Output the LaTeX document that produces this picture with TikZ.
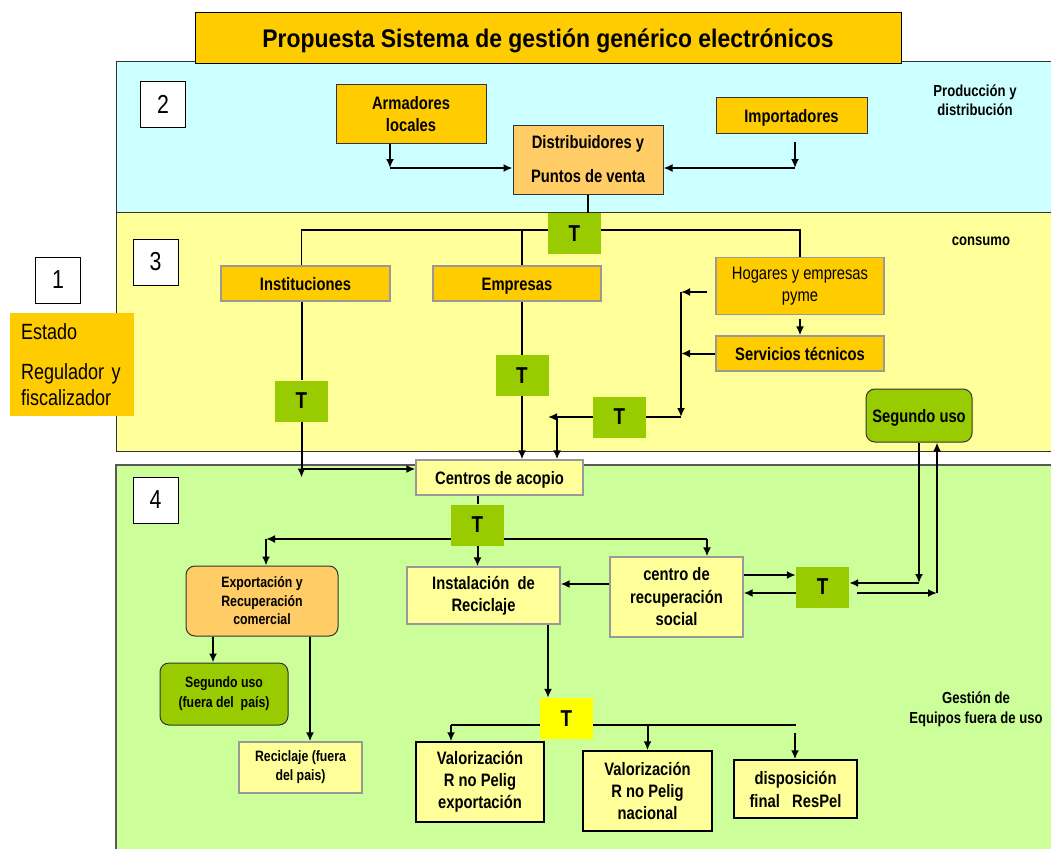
\documentclass[tikz,border=0pt]{standalone}
\usepackage{fontspec}
\setmainfont{Liberation Sans}[FakeStretch=0.82]
\newfontfamily\titlefont{Liberation Sans}[FakeStretch=0.9]
\usetikzlibrary{arrows.meta,positioning}
\tikzset{>={Latex[length=9pt,width=8pt]}}
\definecolor{titleOrange}{HTML}{FFCC00}
\definecolor{lightOrange}{HTML}{FFCC66}
\definecolor{prodBlue}{HTML}{CCFFFF}
\definecolor{consYellow}{HTML}{FFFF99}
\definecolor{gestGreen}{HTML}{CCFF99}
\definecolor{tGreen}{HTML}{99CC00}
\definecolor{tYellow}{HTML}{FFFF00}
\colorlet{paleBox}{consYellow}
\colorlet{edgeGray}{black!40}
\colorlet{edgeDark}{black!80}
\tikzset{
  sz/.style 2 args={minimum width=#1,minimum height=#2},
  box/.style={rectangle,inner sep=0pt,align=center,font=\fontsize{18}{22}\selectfont\bfseries},
  oneline/.style={text height=13pt,text depth=0pt},
  darkbox/.style={box,fill=titleOrange,draw=edgeDark,line width=1pt},
  orangebox/.style={box,fill=titleOrange,draw=edgeGray,line width=1.3pt},
  palebox/.style={box,fill=paleBox,draw=edgeGray,line width=1.3pt},
  endbox/.style={box,fill=paleBox,draw=black,line width=1.5pt},
  roundbox/.style={box,rounded corners=9pt,draw=edgeDark,line width=1pt,
    font=\fontsize{15}{18.5}\selectfont\bfseries},
  tbox/.style={rectangle,inner sep=0pt,fill=tGreen,sz={53}{41},
    font=\fontsize{23}{23}\selectfont\bfseries},
  numbox/.style={rectangle,draw=black,line width=0.8pt,fill=white,sz={45}{46},
    font=\fontsize{26}{26}\selectfont},
  note/.style={align=center,font=\fontsize{16}{19}\selectfont\bfseries},
  arr/.style={->,line width=2pt},
  wire/.style={line width=2pt},
  link/.style={line width=1.2pt},
  panel/.style={draw=edgeDark,line width=1pt}
}
\begin{document}
\begin{tikzpicture}[x=1pt,y=-1pt]
\useasboundingbox (0,0) rectangle (1051,848);

% zonas
\draw[panel,fill=prodBlue] (116,62) rectangle (1060,212);
\draw[panel,fill=consYellow] (116,212) rectangle (1060,451);
\draw[panel,draw=black!65,line width=1.6pt,fill=gestGreen] (116,465) rectangle (1060,856);

\node[rectangle,draw=black,line width=1pt,fill=titleOrange,sz={706}{51},
  text height=18pt,text depth=0pt,
  font=\titlefont\fontsize{25.5}{25.5}\selectfont\bfseries] (title) at (548,38.5)
  {Propuesta Sistema de gestión genérico electrónicos};

\node[numbox] (n1) at (58,280) {1};
\node[numbox] (n2) at (163,104) {2};
\node[numbox] (n3) at (155.5,262) {3};
\node[numbox] (n4) at (155.5,500) {4};

\node[rectangle,fill=titleOrange,sz={124}{103},text width=102,inner xsep=11,
  align=left,font=\fontsize{22}{26}\selectfont] (estado) at (72,364.5)
  {Estado\\[14pt]Regulador y\\fiscalizador};

% produccion y distribucion
\node[darkbox,sz={150}{58}] (arm) at (411,114) {Armadores\\locales};
\node[darkbox,fill=lightOrange,sz={150}{69},font=\fontsize{18}{34}\selectfont\bfseries]
  (dist) at (588,159.5) {Distribuidores y\\Puntos de venta};
\node[darkbox,oneline,sz={151}{35}] (imp) at (791.5,115.5) {Importadores};
\node[note] (prodlabel) at (975,100) {Producción y\\distribución};

\coordinate (a1) at (390,168);
\coordinate (i1) at (795,168);
\draw[arr] (arm.south -| a1) -- (a1);
\draw[arr] (a1) -- (a1 -| dist.west);
\draw[arr] ([yshift=-8pt]imp.south -| i1) -- (i1);
\draw[arr] (i1) -- (i1 -| dist.east);

% consumo
\node[tbox] (t1) at (574.5,233.5) {T};
\node[orangebox,oneline,sz={169}{35}] (inst) at (305.5,283.5) {Instituciones};
\node[orangebox,oneline,sz={168}{35}] (emp) at (517,283.5) {Empresas};
\node[orangebox,sz={168}{57},font=\fontsize{18}{22}\selectfont] (hog) at (800,286)
  {Hogares y empresas\\pyme};
\node[orangebox,oneline,sz={168}{35}] (serv) at (800,353.5) {Servicios técnicos};
\node[note] (conslabel) at (981,241) {consumo};
\node[tbox] (t2) at (301.5,401) {T};
\node[tbox] (t3) at (522,375.5) {T};
\node[tbox] (t4) at (619.5,417) {T};
\node[box,oneline,rounded corners=9pt,fill=tGreen,draw=edgeDark,line width=1pt,sz={106}{53}]
  (seg) at (919,415.5) {Segundo uso};

\coordinate (bus) at (301,230);
\draw[link] (dist.south) -- (dist.south |- t1.north);
\draw[link] (t2 |- inst.north) -- (t2 |- bus) -- (t1.west |- bus);
\draw[link] (t1.east |- bus) -| (hog.north);
\draw[link] (t3 |- emp.north) -- (t3 |- bus);

% gestion de equipos fuera de uso
\node[palebox,oneline,sz={167}{35}] (cen) at (499.5,477.5) {Centros de acopio};
\node[tbox] (t5) at (477.5,525) {T};
\node[roundbox,fill=lightOrange,sz={152}{70}] (exp) at (262,601)
  {Exportación y\\Recuperación\\comercial};
\node[palebox,sz={153}{57}] (ins) at (483.5,595.5) {Instalación\ \ de\\Reciclaje};
\node[palebox,sz={133}{80},font=\fontsize{18}{22.5}\selectfont\bfseries] (rec) at (676.5,597)
  {centro de\\recuperación\\social};
\node[tbox] (t6) at (822.5,587) {T};
\node[roundbox,fill=tGreen,sz={128}{62},font=\fontsize{15}{20}\selectfont\bfseries]
  (sf) at (224,694) {Segundo uso\\(fuera del\ \ país)};
\node[palebox,sz={123}{51},font=\fontsize{15}{19}\selectfont\bfseries] (rf) at (300.5,767.5)
  {Reciclaje (fuera\\del pais)};
\node[tbox,fill=tYellow] (t7) at (566.5,718.5) {T};
\node[endbox,sz={128}{80}] (v1) at (480,782) {Valorización\\R no Pelig\\exportación};
\node[endbox,sz={129}{80}] (v2) at (647.5,791) {Valorización\\R no Pelig\\nacional};
\node[endbox,sz={123}{58},font=\fontsize{18}{23}\selectfont\bfseries] (dp) at (795.5,789)
  {disposición\\final\ \ \ ResPel};
\node[note,font=\fontsize{16}{20}\selectfont\bfseries] (gestlabel) at (976,709)
  {Gestión de\\Equipos fuera de uso};

% flujos hacia acopio
\coordinate (c2) at (301,469);
\coordinate (h1) at (681,292);
\coordinate (h2) at (681,417);
\coordinate (h3) at (548,417);
\coordinate (h4) at (557,417);
\draw[wire] (inst.south -| t2) -- (t2.north);
\draw[arr] (t2.south) -- (t2 |- cen.center);
\draw[arr] (c2) -- (c2 -| cen.west);
\draw[wire] (emp.south -| t3) -- (t3.north);
\draw[arr] (t3.south) -- (t3 |- cen.north);
\draw[arr] ([xshift=-8pt]hog.west |- h1) -- (h1);
\draw[arr] (serv.west) -- (serv.west -| h1);
\draw[arr] ([yshift=-4pt]hog.south) -- (serv.north);
\draw[arr] (h1) -- (h2);
\draw[wire] (h2) -- (t4.east);
\draw[arr] (t4.west) -- (h3);
\draw[arr] (h4) -- (h4 |- cen.north);

% desde acopio
\coordinate (e1) at (266,539);
\coordinate (e2) at (707,539);
\draw[wire] (cen.south -| t5) -- (t5.north);
\draw[arr] (t5.south) -- (t5 |- ins.north);
\draw[arr] (t5.west |- e1) -- (e1);
\draw[arr] (e1) -- (e1 |- exp.north);
\draw[link] (t5.east |- e2) -- (e2);
\draw[arr] (e2) -- (e2 |- rec.north);

% centro de recuperacion y segundo uso
\coordinate (out1) at (770,575);
\coordinate (back1) at (770,593);
\coordinate (s1) at (919,583);
\coordinate (s2) at (937,593);
\coordinate (rin) at (585,584);
\draw[arr] (rec.east |- out1) -- (t6.west |- out1);
\draw[arr] (t6.west |- back1) -- (rec.east |- back1);
\draw[arr] (seg.south -| s1) -- (s1);
\draw[arr] (s1) -- (s1 -| t6.east);
\draw[arr] ([xshift=8pt]t6.east |- s2) -- (s2);
\draw[arr] (s2) -- (seg.south -| s2);
\draw[arr] (rec.west |- rin) -- (ins.east |- rin);

% exportacion
\coordinate (ex1) at (213,650);
\coordinate (ex2) at (310,690);
\draw[arr] (ex1 |- exp.south) -- (ex1 |- sf.north);
\draw[arr] (ex2 |- exp.south) -- (ex2 |- rf.north);

% reciclaje
\coordinate (in1) at (548,660);
\coordinate (v0) at (451,725);
\coordinate (v3) at (796,725);
\coordinate (d0) at (795,733);
\draw[arr] (in1 |- ins.south) -- (in1 |- t7.north);
\draw[link] (t7.west |- v0) -- (v0);
\draw[arr] (v0) -- (v0 |- v1.north);
\draw[link] (t7.east |- v3) -- (v3);
\draw[arr] (v2.north |- v3) -- (v2.north);
\draw[arr] (d0) -- (d0 |- dp.north);
\end{tikzpicture}
\end{document}
